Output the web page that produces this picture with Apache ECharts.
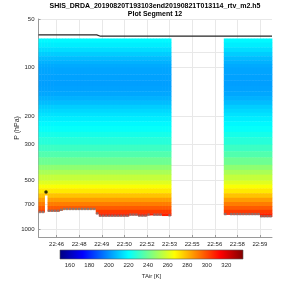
<!DOCTYPE html>
<html><head><meta charset="utf-8">
<script src="https://cdn.jsdelivr.net/npm/echarts@6/dist/echarts.min.js"></script>
<style>html,body{margin:0;padding:0;background:#fff}#c{width:300px;height:300px}</style>
</head><body><div id="c"></div>
<script>
// ---- data ----
const titleLine1 = 'SHIS_DRDA_20190820T193103end20190821T013114_rtv_m2.h5';
const titleLine2 = 'Plot Segment 12';
// x axis: seconds relative to the 22:46 tick
const xTickValues = [0, 90, 180, 270, 360, 450, 540, 630, 720, 810];
const xTickLabels = ['22:46', '22:48', '22:49', '22:50', '22:52', '22:53', '22:55', '22:56', '22:58', '22:59'];
const yTickValues = [50, 100, 200, 300, 500, 700, 1000];
const yGridValues = [50, 80, 100, 200, 300, 400, 500, 700, 1000];
const cbTicks = [160, 180, 200, 220, 240, 260, 280, 300, 320];
const tempMin = 150, tempMax = 337;

// column centre times (s)
const colTimes = [-66, -54, -42, -30, -18, -6, 6, 18, 30, 42, 54, 66, 78, 90, 102, 114, 126, 138, 150, 162, 174, 186,
  198, 210, 222, 234, 246, 258, 270, 282, 294, 306, 318, 330, 342, 354, 366, 378, 390, 402, 414, 426, 438, 450,
  672, 684, 696, 708, 720, 732, 744, 756, 768, 780, 792, 804, 816, 828, 840, 852];
// lowest pressure reached by the retrieval in each column (hPa)
const colBottomP = [786, 786, 616, 775, 775, 775, 775, 764, 755, 755, 755, 755, 755, 755, 755, 755, 755, 755, 755, 804,
  831, 831, 831, 831, 831, 831, 831, 831, 831, 831, 819, 819, 819, 829, 829, 829, 819, 819, 819, 819, 819, 826, 826, 826,
  812, 812, 812, 812, 812, 812, 812, 812, 812, 812, 812, 812, 838, 838, 838, 838];
// surface pressure markers (hPa)
const surfP = [784, 784, null, 771, 771, 771, 771, 760, 751, 751, 751, 751, 751, 751, 751, 751, 751, 751, 751, 800,
  827, 827, 827, 827, 827, 827, 827, 827, 827, 827, 815, 815, 815, 826, 826, 826, 815, null, 815, 815, 815, null, null, 822,
  808, null, 808, 808, 808, 808, 808, 808, 808, 808, 808, 808, 834, 834, 834, 834];
// layer tops (hPa) and air temperature of each layer (K)
const presLevels = [66, 70, 75, 80, 85, 90, 95, 100, 110, 120, 130, 140, 150, 160, 170, 180, 190, 200, 215, 230, 250, 270,
  300, 330, 360, 400, 430, 460, 500, 530, 560, 600, 640, 680, 720, 760, 800, 840];
const tempProfile = [219, 217, 214, 211, 208, 206, 204.5, 203.5, 203, 202.5, 203, 204, 206, 208, 211, 213, 215, 217, 219, 221, 224, 227,
  231, 235, 240, 246, 251, 256, 261, 266, 271, 278, 285, 291, 297, 303, 308, 311];
// aircraft level
const aircraftT = [-72, 160, 175, 858];
const aircraftP = [62.7, 62.7, 63.9, 63.9];
// cloud marker
const cloudT = [-42];
const cloudP = [590];

// ---- build ----
const colW = 12;
const jet = ['#000080', '#0000ff', '#0080ff', '#00ffff', '#80ff80', '#ffff00', '#ff8000', '#ff0000', '#800000'];
const cells = [];
colTimes.forEach((t, c) => {
  presLevels.forEach((p, k) => {
    const bottom = colBottomP[c];
    if (p < bottom) {
      const next = k + 1 < presLevels.length ? presLevels[k + 1] : Infinity;
      cells.push([t, p, Math.min(next, bottom), tempProfile[k]]);
    }
  });
});
const surfData = [];
colTimes.forEach((t, i) => { if (surfP[i] != null) surfData.push([t, surfP[i]]); });
const FONT = 'Liberation Sans, Arial, Helvetica, sans-serif';
const chart = echarts.init(document.getElementById('c'), null, { renderer: 'canvas' });
chart.setOption({
  animation: false,
  textStyle: { fontFamily: FONT },
  graphic: [
    { type: 'text', x: 155, y: 6, style: { text: titleLine1, align: 'center', verticalAlign: 'middle', textAlign: 'center', textVerticalAlign: 'middle', fontSize: 7, fontWeight: 'bold', fontFamily: FONT, fill: '#000' } },
    { type: 'text', x: 155, y: 14.5, style: { text: titleLine2, align: 'center', verticalAlign: 'middle', textAlign: 'center', textVerticalAlign: 'middle', fontSize: 7, fontWeight: 'bold', fontFamily: FONT, fill: '#000' } }
  ],
  grid: [
    { left: 38.5, top: 19, width: 233.5, height: 218 },
    { left: 60, top: 250, width: 183, height: 9 }
  ],
  visualMap: {
    type: 'continuous', show: false, min: tempMin, max: tempMax, dimension: 3, seriesIndex: 0,
    inRange: { color: jet }
  },
  xAxis: [
    {
      type: 'value', gridIndex: 0, min: -72, max: 858,
      axisLine: { show: true, onZero: false, lineStyle: { color: '#9a9a9a', width: 1 } },
      axisTick: { show: true, inside: true, length: 2, customValues: xTickValues, lineStyle: { color: '#9a9a9a' } },
      axisLabel: { customValues: xTickValues, fontSize: 6, color: '#262626', margin: 4,
        formatter: v => xTickLabels[xTickValues.indexOf(v)] },
      splitLine: { show: true, lineStyle: { color: '#e8e8e8', width: 1 } }
    },
    {
      type: 'value', gridIndex: 1, min: tempMin, max: tempMax,
      axisLine: { show: false, onZero: false }, axisTick: { show: false },
      axisLabel: { customValues: cbTicks, fontSize: 6, color: '#262626', margin: 3 },
      splitLine: { show: false },
      name: 'TAir [K]', nameLocation: 'middle', nameGap: 14, nameMoveOverlap: false,
      nameTextStyle: { fontSize: 6, color: '#262626' }
    }
  ],
  yAxis: [
    {
      type: 'log', logBase: 10, gridIndex: 0, inverse: true, min: 50, max: 1120,
      axisLine: { show: true, onZero: false, lineStyle: { color: '#9a9a9a', width: 1 } },
      axisTick: { show: true, inside: true, length: 2, customValues: yGridValues, lineStyle: { color: '#9a9a9a' } },
      axisLabel: { customValues: yTickValues, fontSize: 6, color: '#262626', margin: 4, formatter: v => String(v) },
      splitLine: { show: true, lineStyle: { color: '#e8e8e8', width: 1 } },
      name: 'P (hPa)', nameLocation: 'middle', nameGap: 18, nameMoveOverlap: false,
      nameTextStyle: { fontSize: 7, color: '#262626' }
    },
    { type: 'value', gridIndex: 1, min: 0, max: 1, show: false }
  ],
  series: [
    {
      type: 'custom', xAxisIndex: 0, yAxisIndex: 0, clip: true,
      encode: { x: 0, y: [1, 2] },
      data: cells,
      renderItem: (params, api) => {
        const t = api.value(0), p0 = api.value(1), p1 = api.value(2);
        const a = api.coord([t - colW / 2, p0]);
        const b = api.coord([t + colW / 2, p1]);
        return { type: 'rect', shape: { x: a[0], y: a[1], width: b[0] - a[0] + 0.4, height: b[1] - a[1] + 0.4 },
          style: { fill: api.visual('color') } };
      }
    },
    {
      type: 'line', xAxisIndex: 0, yAxisIndex: 0, showSymbol: false, z: 5,
      data: aircraftT.map((t, i) => [t, aircraftP[i]]),
      lineStyle: { color: '#262626', width: 1.2 }
    },
    {
      type: 'scatter', xAxisIndex: 0, yAxisIndex: 0, symbol: 'rect', symbolSize: 2.4, z: 6,
      data: surfData, itemStyle: { color: '#7a7a7a' }
    },
    {
      type: 'scatter', xAxisIndex: 0, yAxisIndex: 0, symbol: 'circle', symbolSize: 3.5, z: 7,
      data: cloudT.map((t, i) => [t, cloudP[i]]), itemStyle: { color: '#000' }
    },
    {
      type: 'custom', xAxisIndex: 1, yAxisIndex: 1,
      data: [[tempMin, tempMax]],
      renderItem: (params, api) => {
        const a = api.coord([api.value(0), 1]);
        const b = api.coord([api.value(1), 0]);
        return { type: 'rect', shape: { x: a[0], y: a[1], width: b[0] - a[0], height: b[1] - a[1] },
          style: { fill: new echarts.graphic.LinearGradient(0, 0, 1, 0, jet.map((c, i) => ({ offset: i / (jet.length - 1), color: c }))),
            stroke: '#555', lineWidth: 0.6 } };
      }
    }
  ]
});
</script>
</body></html>
